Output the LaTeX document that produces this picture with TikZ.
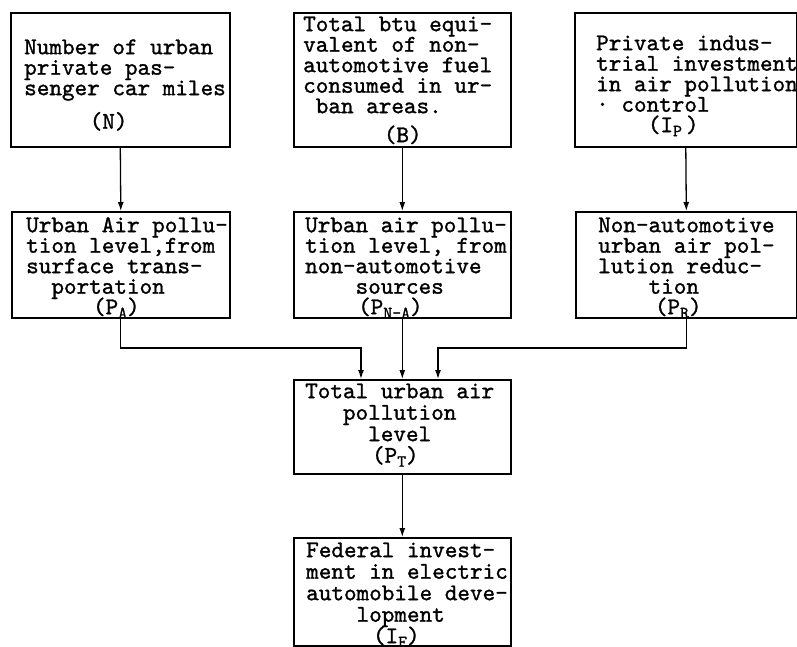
\documentclass[tikz,border=0pt]{standalone}
\usepackage{fontspec}
\usetikzlibrary{arrows.meta}

% typewriter face, a little heavier than the plain mono
\newfontfamily\twfont{lmmono10-regular.otf}[FakeBold=1.2]

% typewriter setting: one character cell is \cw wide
\newlength\cw
\newcommand\typer[1]{\twfont\fontsize{24pt}{#1pt}\selectfont
  \lineskiplimit=-100pt\setlength\cw{0.525em}}
\newcommand\ind[1]{\hspace*{#1\cw}}
\newcommand\sbs[1]{\raisebox{-4pt}{\fontsize{17pt}{17pt}\selectfont #1}}
\newcommand\fl{\rule{0pt}{18pt}}

\begin{document}
\begin{tikzpicture}[x=1pt,y=-1pt,
  box/.style={draw, line width=1.6pt, inner sep=0pt, anchor=north west},
  txt/.style={anchor=north west, inner sep=0pt, align=left, font={\typer{#1}}},
  txt/.default=20.5,
  link/.style={line width=1.3pt},
  arr/.style={link, -{Latex[length=9pt,width=6pt]}}]

\useasboundingbox (0,0) rectangle (797,646);

% ---- top row: inputs
\node[box, minimum width=219pt, minimum height=134pt] (n)  at (10,12) {};
\node[box, minimum width=217pt, minimum height=134pt] (b)  at (293,12) {};
\node[box, minimum width=222pt, minimum height=134pt] (ip) at (574,12) {};

\node[txt] (nt) at (24,36) {\fl Number of urban\\ private pas-\\ senger car miles\\[13pt] \ind{5.2}(N)};
\node[txt] (bt) at (303,13) {\fl Total btu equi-\\ valent of non-\\ automotive fuel\\ consumed in ur-\\ \ind{1}ban areas.\\[8.5pt] \ind{6.4}(B)};
\node[txt] (ipt) at (596,32) {\fl Private indus-\\ trial investment\\ in air pollution\\ ·~control\\ \ind{4.1}(I\sbs{P}\,)};

% ---- middle row: pollution levels
\node[box, minimum width=218pt, minimum height=106pt] (pa)  at (11,211) {};
\node[box, minimum width=217pt, minimum height=106pt] (pna) at (293,211) {};
\node[box, minimum width=221pt, minimum height=106pt] (pr)  at (575,211) {};

\node[txt] (pat) at (26,214) {\fl Urban Air pollu-\\ tion level,from\\ surface trans-\\ \ind{2}portation\\ \ind{5.3}(P\sbs{A})};
\node[txt] (pnat) at (305,214) {\fl Urban air pollu-\\ tion level, from\\ non-automotive\\ \ind{4}sources\\ \ind{4.2}(P\sbs{N-A})};
\node[txt] (prt) at (598,214) {\fl Non-automotive\\ urban air pol-\\ lution reduc-\\ \ind{4}tion\\ \ind{4.5}(P\sbs{R})};

% ---- total and federal investment
\node[box, minimum width=217pt, minimum height=94pt] (tot) at (293,379) {};
\node[txt=21.5] (tott) at (305,380) {\fl Total urban air\\ \ind{3}pollution\\ \ind{5}level\\ \ind{5.3}(P\sbs{T})};

\node[box, minimum width=217pt, minimum height=108pt] (fed) at (293,537) {};
\node[txt=21.5] (fedt) at (306,539) {\fl Federal invest-\\ ment in electric\\ automobile deve-\\ \ind{4}lopment\\ \ind{5.3}(I\sbs{F})};

% ---- connectors
\coordinate (jl) at (361,348);
\coordinate (jr) at (438,348);

\draw[arr] (n.south)  -- (pa.north);
\draw[arr] (b.south)  -- (pna.north);
\draw[arr] (ip.south) -- (pr.north);

\draw[arr] (pa.south) |- (jl) -- (jl |- tot.north);
\draw[arr] (pna.south) -- (tot.north);
\draw[arr] (pr.south) |- (jr) -- (jr |- tot.north);

\draw[arr] (tot.south) -- (fed.north);
\end{tikzpicture}
\end{document}
